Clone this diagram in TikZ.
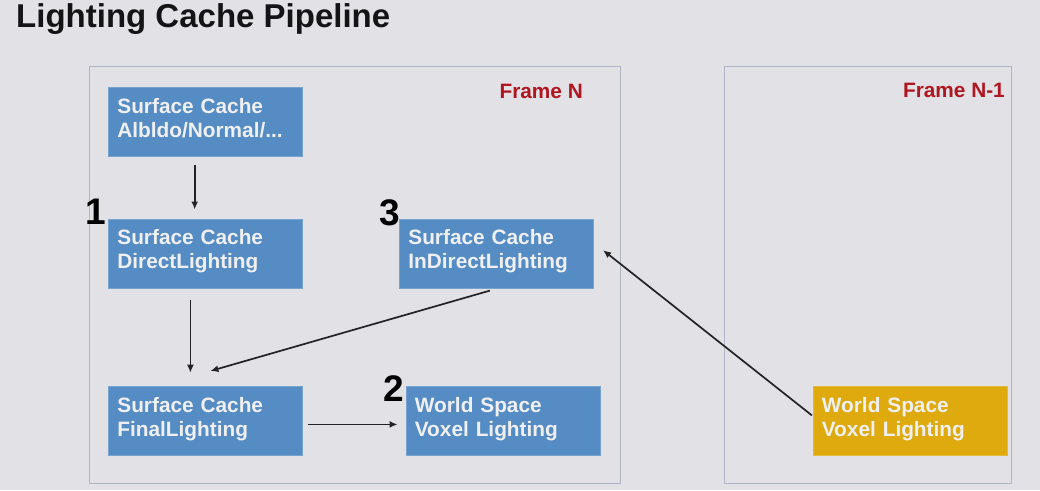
\documentclass[tikz,border=0pt]{standalone}
\usepackage{fontspec}
\setmainfont{Liberation Sans}
\usetikzlibrary{arrows.meta,calc}
\definecolor{bg}{RGB}{225,225,230}
\definecolor{boxblue}{RGB}{84,140,195}
\definecolor{boxyellow}{RGB}{222,170,14}
\definecolor{framecol}{RGB}{176,181,198}
\definecolor{framered}{RGB}{176,22,32}
\definecolor{txt}{RGB}{240,240,242}
\definecolor{arrowcol}{RGB}{35,35,38}
\definecolor{titlecol}{RGB}{20,20,22}
\begin{document}
\begin{tikzpicture}[x=1pt,y=-1pt,
  stagebox/.style={draw=#1!80!white, line width=0.8pt, fill=#1, text=txt,
    anchor=north west, minimum width=194pt, minimum height=69pt,
    text width=176pt, inner xsep=9pt, inner ysep=0pt, align=left,
    text height=25.7pt, text depth=43.3pt,
    font=\bfseries\fontsize{20.8}{24.3}\selectfont},
  framebox/.style={draw=framecol, line width=1.2pt, anchor=north west, inner sep=0pt},
  framelabel/.style={text=framered, anchor=base east, inner sep=0pt,
    font=\bfseries\fontsize{20.8}{24}\selectfont},
  stepnum/.style={text=black, inner sep=0pt, font=\bfseries\fontsize{37}{40}\selectfont},
  flow/.style={draw=arrowcol, line width=1.7pt, -{Latex[length=8pt,width=7pt]}}
]
\useasboundingbox (0,0) rectangle (1040,490);
\fill[bg] (0,0) rectangle (1040,490);

\node[anchor=base west, inner sep=0pt, text=titlecol,
  font=\bfseries\fontsize{33}{38}\selectfont] (title) at (16,27) {Lighting Cache Pipeline};

% frames
\node[framebox, minimum width=531pt, minimum height=417pt] (frameN) at (89,66) {};
\node[framebox, minimum width=287pt, minimum height=417pt] (frameP) at (723.5,66) {};
\node[framelabel] (lblN) at (583,98) {Frame N};
\node[framelabel] (lblP) at (1005,97) {Frame N-1};

% boxes
\node[stagebox=boxblue] (A) at (108,87) {Surface Cache\\Albldo/Normal/...};
\node[stagebox=boxblue] (B) at (108,218.5) {Surface Cache\\DirectLighting};
\node[stagebox=boxblue] (C) at (108,386) {Surface Cache\\FinalLighting};
\node[stagebox=boxblue] (D) at (405.5,386) {World Space\\Voxel Lighting};
\node[stagebox=boxblue] (E) at (399,218.5) {Surface Cache\\InDirectLighting};
\node[stagebox=boxyellow] (F) at (812.5,386) {World Space\\Voxel Lighting};

% step numbers
\node[stepnum] (n1) at (96,212) {1};
\node[stepnum] (n3) at (390,213) {3};
\node[stepnum] (n2) at (394,389) {2};

% connectors
\draw[flow] ($(A.south)+(-10.7,8)$) -- ($(B.north)+(-10.7,-9)$);
\draw[flow] ($(B.south)+(-15,12)$) -- ($(C.north)+(-15,-13.3)$);
\draw[flow] ($(E.south)+(-6.5,2.3)$) -- ($(C.north)+(5,-15)$);
\draw[flow] ($(C.east)+(5,3.5)$) -- ($(D.west)+(-8,3.5)$);
\draw[flow] ($(F.west)+(-0.6,-5.5)$) -- ($(E.east)+(9.3,-3.2)$);
\end{tikzpicture}
\end{document}
